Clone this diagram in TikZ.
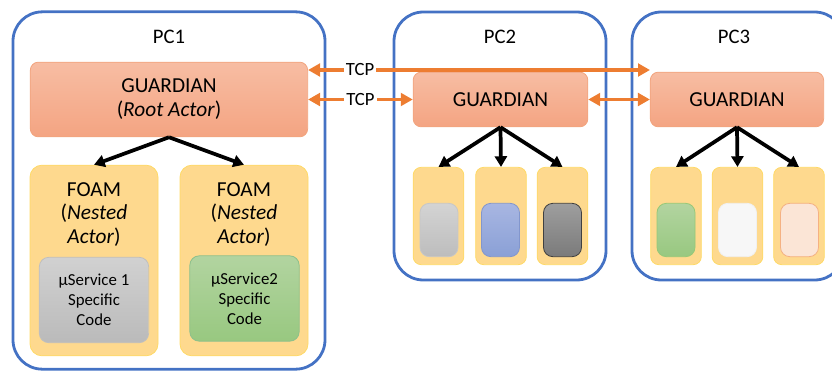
\documentclass[tikz,border=0pt]{standalone}
\usepackage{fontspec}
\setmainfont{Carlito}
\usetikzlibrary{arrows.meta,positioning}
\definecolor{pcblue}{HTML}{4472C4}
\definecolor{tcporange}{HTML}{ED7D31}
\definecolor{grdtop}{HTML}{F7BDA3}
\definecolor{grdbot}{HTML}{F4A482}
\definecolor{grdline}{HTML}{F2A47E}
\definecolor{foamfill}{HTML}{FED98E}
\definecolor{foamline}{HTML}{FFD966}

\begin{document}
\begin{tikzpicture}[
  pcbox/.style    = {draw=pcblue, line width=2.1pt, rounded corners=22pt, inner sep=0pt},
  pclabel/.style  = {anchor=north, font=\fontsize{15.5}{18}\selectfont},
  grdbox/.style   = {draw=grdline, line width=0.6pt, top color=grdtop, bottom color=grdbot,
                     rounded corners=6pt, inner sep=0pt, align=center, font=\fontsize{16}{18}\selectfont},
  foambox/.style  = {draw=foamline, line width=0.6pt, fill=foamfill, rounded corners=9pt, inner sep=0pt},
  foamtext/.style = {anchor=north, align=center, font=\fontsize{16}{17.5}\selectfont},
  codebox/.style  = {rounded corners=7pt, line width=0.6pt, inner sep=0pt, align=center,
                     font=\fontsize{12.6}{15}\selectfont},
  spawn/.style    = {-{Triangle[length=8pt, width=9pt]}, line width=2.8pt},
  tcplink/.style  = {{Triangle[length=9pt, width=9.5pt]}-{Triangle[length=9pt, width=9.5pt]},
                     draw=tcporange, line width=2.5pt},
  tcptext/.style  = {fill=white, inner sep=1.5pt, font=\fontsize{14}{16}\selectfont},
  x=0.75pt, y=-0.75pt,
]
  \useasboundingbox (0,0) rectangle (832,371);

  % machines
  \node[pcbox, minimum width=234pt, minimum height=268pt] (pc1) at (169,190.5) {};
  \node[pcbox, minimum width=159pt, minimum height=201pt] (pc2) at (500,146) {};
  \node[pcbox, minimum width=159pt, minimum height=201pt] (pc3) at (738,146) {};
  \node[pclabel] at ([yshift=-11pt]pc1.north) {PC1};
  \node[pclabel] at ([yshift=-11pt]pc2.north) {PC2};
  \node[pclabel] at ([xshift=-3pt, yshift=-11pt]pc3.north) {PC3};

  % guardians
  \node[grdbox, minimum width=208pt, minimum height=56pt] (grd1) at (169,99.5)
    {GUARDIAN\\(\textit{Root Actor})};
  \node[grdbox, minimum width=131pt, minimum height=41pt] (grd2) at (500.5,99.5) {GUARDIAN};
  \node[grdbox, minimum width=130pt, minimum height=41pt] (grd3) at (737,99.5) {GUARDIAN};

  % nested actors of PC1
  \node[foambox, minimum width=96pt, minimum height=143pt] (foam1) at (94,260.5) {};
  \node[foambox, minimum width=96pt, minimum height=143pt] (foam2) at (244,260.5) {};
  \node[foamtext] at ([yshift=-10pt]foam1.north) {FOAM\\(\textit{Nested}\\\textit{Actor})};
  \node[foamtext] at ([yshift=-10pt]foam2.north) {FOAM\\(\textit{Nested}\\\textit{Actor})};
  \node[codebox, draw=black!25, top color=black!18, bottom color=black!27,
        minimum width=82pt, minimum height=64pt] (svc1) at (94,300)
    {µService 1\\Specific\\Code};
  \node[codebox, draw=green!45!black!45, top color={rgb,255:red,178;green,212;blue,160},
        bottom color={rgb,255:red,152;green,200;blue,128},
        minimum width=82pt, minimum height=64pt] (svc2) at (244.5,298.5)
    {µService2\\Specific\\Code};

  % nested actors of PC2 and PC3
  \foreach \n/\cx in {21/438.5, 22/501, 23/562.5, 31/676, 32/737.5, 33/799}
    \node[foambox, rounded corners=6pt, minimum width=38pt, minimum height=73pt] (act\n) at (\cx,216) {};
  \node[codebox, draw=black!22, top color=black!17, bottom color=black!26,
        minimum width=28.5pt, minimum height=40pt] (svc21) at (439,230) {};
  \node[codebox, draw={rgb,255:red,130;green,150;blue,205}, top color={rgb,255:red,168;green,182;blue,226},
        bottom color={rgb,255:red,138;green,160;blue,214},
        minimum width=28.5pt, minimum height=40pt] (svc22) at (500.5,230) {};
  \node[codebox, draw=black!75, top color=black!38, bottom color=black!52,
        minimum width=28.5pt, minimum height=40pt] (svc23) at (562.5,230) {};
  \node[codebox, draw={rgb,255:red,150;green,200;blue,120}, top color={rgb,255:red,178;green,212;blue,160},
        bottom color={rgb,255:red,152;green,200;blue,128},
        minimum width=28.5pt, minimum height=40pt] (svc31) at (676,230) {};
  \node[codebox, draw=black!6, fill=black!3,
        minimum width=28.5pt, minimum height=40pt] (svc32) at (737.5,230) {};
  \node[codebox, draw={rgb,255:red,244;green,177;blue,131}, fill={rgb,255:red,251;green,229;blue,214},
        minimum width=28.5pt, minimum height=40pt] (svc33) at (799.5,230) {};

  % spawning
  \draw[spawn] (grd1.south) -- (foam1.north);
  \draw[spawn] (grd1.south) -- (foam2.north);
  \foreach \n in {21,22,23}
    \draw[spawn] (grd2.south) -- (act\n.north);
  \foreach \n in {31,32,33}
    \draw[spawn] (grd3.south) -- (act\n.north);

  % tcp links
  \coordinate (tcpend) at (650,70);
  \draw[tcplink] (grd1.east |- tcpend) -- node[tcptext, pos=0.152] {TCP} (tcpend);
  \draw[tcplink] (grd1.east |- grd2.west) -- node[tcptext] {TCP} (grd2.west);
  \draw[tcplink] (grd2.east) -- (grd3.west);
\end{tikzpicture}
\end{document}
